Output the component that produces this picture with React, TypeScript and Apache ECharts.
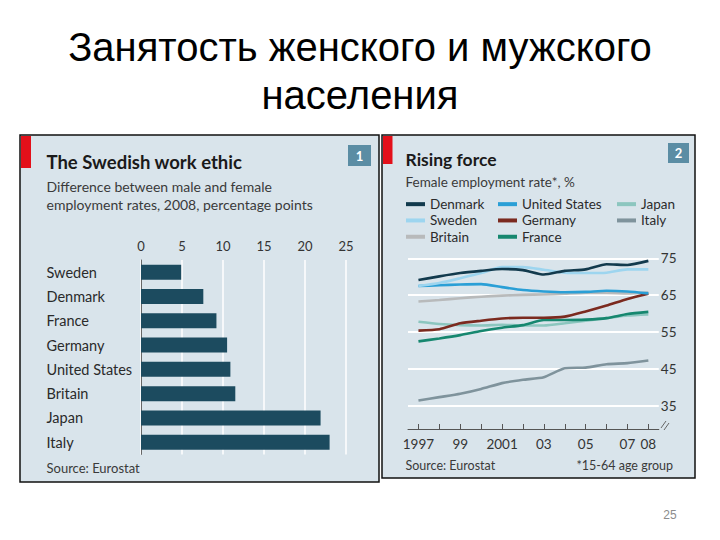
import React, { useEffect, useRef } from "react";
import * as echarts from "echarts";

// ---- Data: chart 1 (bar) ----
const barCountries = ["Sweden", "Denmark", "France", "Germany", "United States", "Britain", "Japan", "Italy"];
const barValues = [4.9, 7.6, 9.2, 10.5, 10.9, 11.5, 21.9, 23.0];

// ---- Data: chart 2 (lines) ----
const years = ["1997", "1998", "1999", "2000", "2001", "2002", "2003", "2004", "2005", "2006", "2007", "2008"];
const yearLabels = ["1997", "", "99", "", "2001", "", "03", "", "05", "", "07", "08"];
const denmark = [69.1, 70.1, 71.0, 71.6, 72.1, 71.8, 70.6, 71.6, 72.0, 73.4, 73.2, 74.3];
const sweden = [67.5, 68.3, 69.6, 71.0, 72.6, 72.6, 71.9, 71.1, 71.0, 71.1, 72.0, 72.0];
const unitedStates = [67.5, 67.7, 67.9, 68.0, 67.2, 66.4, 66.0, 65.8, 65.9, 66.2, 66.0, 65.5];
const britain = [63.3, 63.7, 64.2, 64.6, 64.9, 65.1, 65.2, 65.4, 65.6, 65.6, 65.5, 65.7];
const germany = [55.4, 55.8, 57.4, 58.1, 58.7, 58.9, 58.9, 59.2, 60.6, 62.2, 64.0, 65.4];
const japan = [57.8, 57.2, 56.9, 56.8, 57.0, 56.8, 56.8, 57.4, 58.1, 58.8, 59.5, 59.8];
const france = [52.5, 53.3, 54.2, 55.3, 56.2, 56.9, 58.3, 58.3, 58.4, 58.8, 59.9, 60.5];
const italy = [36.5, 37.4, 38.3, 39.6, 41.2, 42.1, 42.8, 45.2, 45.4, 46.3, 46.6, 47.3];

const FONT = "Lato";
const PANEL_BG = "#d9e4eb";

export default function App() {
  const ref = useRef<HTMLDivElement>(null);

  useEffect(() => {
    if (!ref.current) return;
    const chart = echarts.init(ref.current, undefined, { renderer: "svg" });

    const lineSeries = (name: string, data: number[], color: string, z: number) => ({
      name,
      type: "line",
      xAxisIndex: 1,
      yAxisIndex: 1,
      data,
      color,
      symbol: "none",
      smooth: 0.2,
      z,
      lineStyle: { color, width: 2.6 },
    });

    const legendCommon = {
      orient: "vertical",
      top: 196,
      padding: 0,
      itemGap: 0,
      itemWidth: 19,
      itemHeight: 4,
      icon: "rect",
      selectedMode: false,
      textStyle: { fontFamily: FONT, fontSize: 13.5, color: "#2b2b2b", lineHeight: 16.3 },
    };

    chart.setOption({
      animation: false,
      backgroundColor: "#ffffff",
      graphic: [
        // slide title
        {
          type: "text",
          x: 360,
          y: 47,
          style: {
            text: "Занятость женского и мужского",
            font: '40px "Liberation Sans", Arial, sans-serif',
            fill: "#000",
            textAlign: "center",
            textVerticalAlign: "middle",
          },
        },
        {
          type: "text",
          x: 360,
          y: 95,
          style: {
            text: "населения",
            font: '40px "Liberation Sans", Arial, sans-serif',
            fill: "#000",
            textAlign: "center",
            textVerticalAlign: "middle",
          },
        },
        {
          type: "text",
          x: 670,
          y: 515,
          style: {
            text: "25",
            font: '12px "Liberation Sans", Arial, sans-serif',
            fill: "#8c8c8c",
            textAlign: "center",
            textVerticalAlign: "middle",
          },
        },
        // panel 1
        {
          type: "rect",
          z: -10,
          shape: { x: 20, y: 135, width: 359, height: 347 },
          style: { fill: PANEL_BG, stroke: "#111", lineWidth: 1.5 },
        },
        { type: "rect", z: -9, shape: { x: 21, y: 136, width: 10, height: 32 }, style: { fill: "#e3101a" } },
        { type: "rect", z: -9, shape: { x: 348, y: 145, width: 23, height: 21 }, style: { fill: "#5b8da4" } },
        {
          type: "text",
          x: 359.5,
          y: 155.5,
          style: { text: "1", font: `bold 13px ${FONT}`, fill: "#fff", textAlign: "center", textVerticalAlign: "middle" },
        },
        {
          type: "text",
          x: 46.5,
          y: 162,
          style: { text: "The Swedish work ethic", font: `bold 18.5px ${FONT}`, fill: "#1a1a1a", textVerticalAlign: "middle" },
        },
        {
          type: "text",
          x: 46.5,
          y: 195.5,
          style: {
            text: "Difference between male and female\nemployment rates, 2008, percentage points",
            font: `14px ${FONT}`,
            lineHeight: 17.5,
            fill: "#3a3a3a",
            textVerticalAlign: "middle",
          },
        },
        {
          type: "text",
          x: 46.5,
          y: 468,
          style: { text: "Source: Eurostat", font: `13px ${FONT}`, fill: "#3a3a3a", textVerticalAlign: "middle" },
        },
        // panel 2
        {
          type: "rect",
          z: -10,
          shape: { x: 382, y: 135, width: 313, height: 343 },
          style: { fill: PANEL_BG, stroke: "#111", lineWidth: 1.5 },
        },
        { type: "rect", z: -9, shape: { x: 383, y: 136, width: 9.5, height: 28 }, style: { fill: "#e3101a" } },
        { type: "rect", z: -9, shape: { x: 668, y: 143, width: 21, height: 20 }, style: { fill: "#5b8da4" } },
        {
          type: "text",
          x: 678.5,
          y: 153,
          style: { text: "2", font: `bold 13px ${FONT}`, fill: "#fff", textAlign: "center", textVerticalAlign: "middle" },
        },
        {
          type: "text",
          x: 405.5,
          y: 159,
          style: { text: "Rising force", font: `bold 17.5px ${FONT}`, fill: "#1a1a1a", textVerticalAlign: "middle" },
        },
        {
          type: "text",
          x: 405.5,
          y: 181.5,
          style: { text: "Female employment rate*, %", font: `13.5px ${FONT}`, fill: "#3a3a3a", textVerticalAlign: "middle" },
        },
        {
          type: "text",
          x: 405.5,
          y: 465,
          style: { text: "Source: Eurostat", font: `12.5px ${FONT}`, fill: "#3a3a3a", textVerticalAlign: "middle" },
        },
        {
          type: "text",
          x: 673,
          y: 465,
          style: { text: "*15-64 age group", font: `12.5px ${FONT}`, fill: "#3a3a3a", textAlign: "right", textVerticalAlign: "middle" },
        },
        // axis break mark
        { type: "line", shape: { x1: 661, y1: 428, x2: 666, y2: 421 }, style: { stroke: "#666", lineWidth: 1 } },
        { type: "line", shape: { x1: 664, y1: 430, x2: 669, y2: 423 }, style: { stroke: "#666", lineWidth: 1 } },
      ],
      legend: [
        { ...legendCommon, left: 406, data: ["Denmark", "Sweden", "Britain"] },
        { ...legendCommon, left: 498, data: ["United States", "Germany", "France"] },
        { ...legendCommon, left: 617, data: ["Japan", "Italy"] },
      ],
      grid: [
        { left: 141, top: 260, width: 205, height: 194.4 },
        { left: 408, top: 258.3, width: 250.8, height: 147.7 },
      ],
      xAxis: [
        {
          type: "value",
          gridIndex: 0,
          position: "top",
          min: 0,
          max: 25,
          interval: 5,
          axisLine: { show: false },
          axisTick: { show: false },
          splitLine: { show: true, lineStyle: { color: "#ffffff", width: 1.5 } },
          axisLabel: { margin: 8, fontFamily: FONT, fontSize: 13, color: "#333" },
        },
        {
          type: "category",
          gridIndex: 1,
          data: years,
          boundaryGap: true,
          offset: 23,
          axisLine: { show: true, lineStyle: { color: "#555", width: 1 } },
          axisTick: { show: true, inside: true, length: 5, alignWithLabel: true, interval: 0, lineStyle: { color: "#555" } },
          splitLine: { show: false },
          axisLabel: {
            interval: 0,
            margin: 8,
            fontFamily: FONT,
            fontSize: 13.5,
            color: "#333",
            formatter: (_v: string, i: number) => yearLabels[i],
          },
        },
      ],
      yAxis: [
        {
          type: "category",
          gridIndex: 0,
          data: barCountries,
          inverse: true,
          axisLine: { show: true, lineStyle: { color: "#666", width: 1 } },
          axisTick: { show: false },
          splitLine: { show: false },
          axisLabel: { align: "left", margin: 94.5, fontFamily: FONT, fontSize: 14.5, color: "#2a2a2a" },
        },
        {
          type: "value",
          gridIndex: 1,
          position: "right",
          min: 35,
          max: 75,
          interval: 10,
          axisLine: { show: false },
          axisTick: { show: false },
          splitLine: { show: true, lineStyle: { color: "#ffffff", width: 2 } },
          axisLabel: { margin: 2, fontFamily: FONT, fontSize: 13.5, color: "#333" },
        },
      ],
      series: [
        {
          name: "Gap",
          type: "bar",
          xAxisIndex: 0,
          yAxisIndex: 0,
          data: barValues,
          barWidth: 15,
          itemStyle: { color: "#1c4b5f" },
        },
        lineSeries("Italy", italy, "#7f939c", 3),
        lineSeries("Britain", britain, "#b8babb", 3),
        lineSeries("Japan", japan, "#8cc6bf", 4),
        lineSeries("France", france, "#16876f", 5),
        lineSeries("Germany", germany, "#7b2a1f", 6),
        lineSeries("United States", unitedStates, "#2a9fd6", 7),
        lineSeries("Sweden", sweden, "#9dd5ef", 8),
        lineSeries("Denmark", denmark, "#123a4d", 9),
      ],
    });

    return () => chart.dispose();
  }, []);

  return (
    <div
      ref={ref}
      style={{ position: "fixed", left: 0, top: 0, width: 720, height: 540, background: "#fff" }}
    />
  );
}
